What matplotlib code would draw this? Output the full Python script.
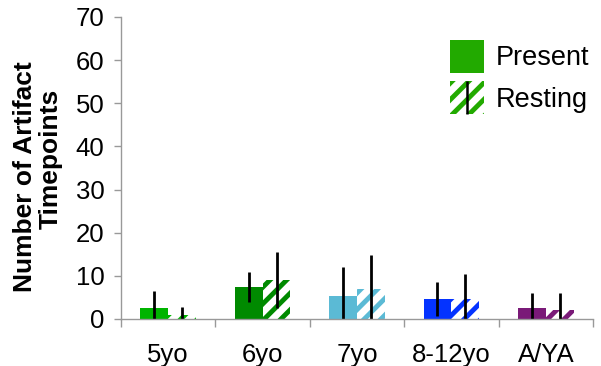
import matplotlib.pyplot as plt
import numpy as np
from matplotlib.patches import Patch, Rectangle
from matplotlib.lines import Line2D

plt.rcParams['font.family'] = ['Liberation Sans', 'DejaVu Sans']
plt.rcParams['hatch.linewidth'] = 3.5

# data
groups = ['5yo', '6yo', '7yo', '8-12yo', 'A/YA']
present = [2.6, 7.4, 5.3, 4.6, 2.6]
present_err = [3.8, 3.5, 6.8, 3.9, 3.4]
resting = [0.9, 9.1, 7.0, 4.6, 2.2]
resting_err = [1.8, 6.5, 7.9, 5.8, 3.8]
colors = ['#00b400', '#008a00', '#5bbad5', '#0433ff', '#7a1a78']
yticks = [0, 10, 20, 30, 40, 50, 60, 70]
legend_color = '#22aa00'


class HatchWithBar:
    # hatched square with the black error line through its middle
    def legend_artist(self, legend, orig_handle, fontsize, handlebox):
        x0, y0 = handlebox.xdescent, handlebox.ydescent
        w, h = handlebox.width, handlebox.height
        tr = handlebox.get_transform()
        rect = Rectangle((-x0, -y0), w, h, facecolor='white', edgecolor=legend_color,
                         hatch='//', linewidth=0, transform=tr)
        line = Line2D([-x0 + w / 2] * 2, [-y0, -y0 + h], color='black', linewidth=1.8,
                      solid_capstyle='butt', transform=tr)
        handlebox.add_artist(rect)
        handlebox.add_artist(line)
        return rect


W, H = 601, 366
fig = plt.figure(figsize=(W / 100, H / 100), dpi=100)
ax = fig.add_axes([121 / W, 47 / H, 472 / W, 302 / H])

x = np.arange(len(groups))
w = 0.295
for i in range(len(groups)):
    ax.bar(x[i] - w / 2, present[i], w, color=colors[i], linewidth=0)
    ax.bar(x[i] + w / 2, resting[i], w, facecolor='white', edgecolor=colors[i],
           hatch='//', linewidth=0)
    ax.errorbar(x[i] - w / 2, present[i], yerr=present_err[i], fmt='none',
                ecolor='black', elinewidth=2, capsize=0)
    ax.errorbar(x[i] + w / 2, resting[i], yerr=resting_err[i], fmt='none',
                ecolor='black', elinewidth=2, capsize=0)

ax.set_xlim(-0.5, len(groups) - 0.5)
ax.set_ylim(0, 70)
ax.set_yticks(yticks)
ax.set_xticks(np.arange(len(groups) + 1) - 0.5)
ax.set_xticklabels([])
ax.set_xticks(x, minor=True)
ax.set_xticklabels(groups, minor=True, fontsize=18.5)
ax.tick_params(axis='x', which='minor', length=0, pad=17)
ax.tick_params(axis='x', which='major', length=6, color='#999999', width=1)
ax.tick_params(axis='y', labelsize=18.5, length=5, color='#999999', width=1, pad=7)

for s in ['top', 'right']:
    ax.spines[s].set_visible(False)
for s in ['left', 'bottom']:
    ax.spines[s].set_color('#999999')
    ax.spines[s].set_linewidth(1)

# y label, two lines placed as in the original
fig.text(25 / W, 1 - 177 / H, 'Number of Artifact', rotation=90, fontsize=19,
         fontweight='bold', ha='center', va='center')
fig.text(51 / W, 1 - 159 / H, 'Timepoints', rotation=90, fontsize=19,
         fontweight='bold', ha='center', va='center')

# legend
resting_handle = Patch(facecolor='white', edgecolor=legend_color, hatch='//')
handles = [Patch(facecolor=legend_color, linewidth=0), resting_handle]
fig.legend(handles, ['Present', 'Resting'], loc='upper left', frameon=False,
           fontsize=19.5, handlelength=1.25, handleheight=1.5, handletextpad=0.45,
           labelspacing=0.3, borderpad=0, borderaxespad=0,
           bbox_to_anchor=(450 / W, 1 - 40 / H),
           handler_map={resting_handle: HatchWithBar()})

fig.savefig('out.png', dpi=100)
